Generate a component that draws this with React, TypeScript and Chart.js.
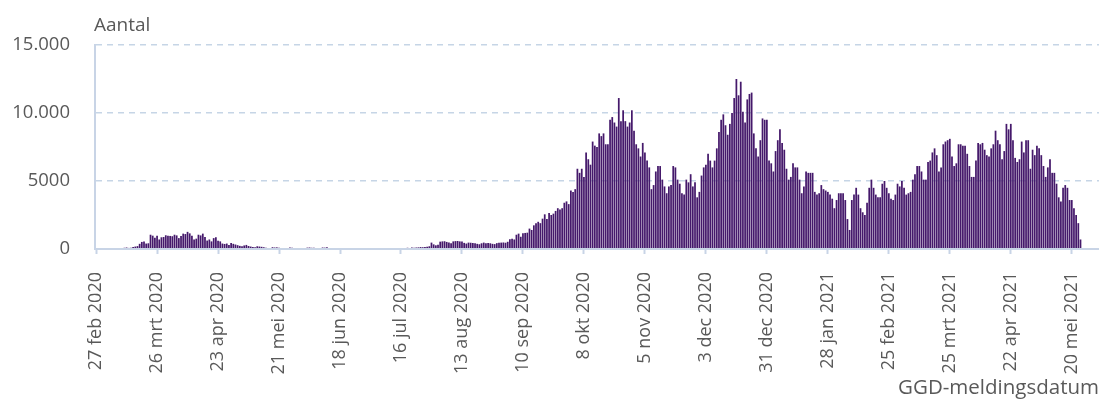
import { useEffect, useRef } from 'react';
import { Chart, registerables } from 'chart.js';

Chart.register(...registerables);

// ---- data ----
const firstDay = [2020, 1, 27]; // 27 feb 2020 (month 0-based)
const dayCount = 461;
const monthNames = ['jan', 'feb', 'mrt', 'apr', 'mei', 'jun', 'jul', 'aug', 'sep', 'okt', 'nov', 'dec'];
const tickEvery = 28;
const xTickLabels = [
  '27 feb 2020', '26 mrt 2020', '23 apr 2020', '21 mei 2020', '18 jun 2020', '16 jul 2020',
  '13 aug 2020', '10 sep 2020', '8 okt 2020', '5 nov 2020', '3 dec 2020', '31 dec 2020',
  '28 jan 2021', '25 feb 2021', '25 mrt 2021', '22 apr 2021', '20 mei 2021',
];
const yTickValues = [0, 5000, 10000, 15000];
const yTickLabels = ['0', '5000', '10.000', '15.000'];
const yAxisTitle = 'Aantal';
const xAxisTitle = 'GGD-meldingsdatum';

// daily counts, 27 feb 2020 onward
const wave1 = [
  0, 0, 0, 0, 1, 2, 3, 5, 8, 10, 15, 20, 25,
  90, 110, 80, 100, 150, 180, 210,
  380, 520, 560, 400, 420, 1050, 980,
  820, 980, 700, 860, 880, 1010, 980,
  960, 940, 1050, 1000, 800, 950, 1130,
  1100, 1260, 1150, 980, 700, 760, 1050,
  1000, 1130, 890, 620, 700, 560, 800,
  860, 600, 560, 400, 370, 400, 300,
  450, 380, 330, 280, 230, 200, 260,
  300, 220, 180, 150, 120, 200, 180,
  160, 130, 100, 30, 20, 130, 110,
  120, 100, 30, 20, 20, 30, 110,
  100, 30, 20, 20, 10, 20, 30,
  100, 110, 90,
];
const summer = [
  100, 20, 10, 20,
  110, 100, 120, 20, 20, 10, 20,
  15, 10, 10, 15, 10, 15, 20,
  15, 10, 10, 10, 15, 10, 15,
  20, 15, 10, 15, 10, 15, 20,
  15, 20, 10, 15, 20, 15, 20, 15,
  20, 30, 20, 90, 30, 110, 100,
  110, 120, 140, 130, 150, 160, 200,
  470, 340, 270, 320, 540, 560, 570,
  520, 470, 430, 560, 580, 590, 560,
  550, 450, 400, 470, 460, 440, 420,
  380, 350, 420, 470, 430, 440, 420,
  380, 360, 430, 460, 470, 480, 460,
  530, 720, 760, 700, 1050, 1130, 900,
  1150, 1180, 1200, 1500,
];
const wave2 = [
  1400, 1740, 1900, 2000, 1900, 2230, 2550, 2200, 2650,
  2500, 2600, 2800, 3000, 2900, 3000, 3400,
  3500, 3300, 4300, 4200, 4400, 5900, 5600,
  5900, 5300, 7100, 6600, 6200, 7900, 7600,
  7500, 8500, 8300, 8500, 7700, 7700, 9500,
  9700, 9300, 9000, 11100, 9400, 10200, 9400,
  9000, 9300, 10200, 8700, 7700, 7400, 6800,
  7800, 7100, 6500, 6000, 4400, 4700, 5700,
  6100, 6100, 5100, 4600, 4100, 4600, 4700,
  6100, 6000, 5100, 4800, 4100, 4000, 5100,
  4900, 5500, 4600, 4900, 3800, 4200, 5400,
  6000, 6200, 7000, 6500, 6000, 6500, 7400,
  8600, 9500, 9900, 9100, 8400, 9200, 10000,
  11100, 12500, 11300, 12300, 10100, 9300, 11000,
  11400, 11500, 8500, 7400, 6800, 8000, 9600,
  9500, 9500, 6500, 6300, 5700, 7200, 8000,
  8800, 7800, 7300, 5900, 5100, 5300, 6300,
  6000, 6000, 5100, 4100, 4600, 5700, 5600,
  5600, 5600,
];
const wave3 = [
  4200, 4000, 4100, 4700, 4400, 4300, 4200,
  4000, 3700, 3000, 3600, 4100, 4100, 4100,
  3600, 2200, 1400, 3600, 4000, 4500, 4000,
  3000, 2700, 2500, 3400, 4500, 5100, 4500,
  4000, 3800, 3800, 4800, 5000, 4500, 4100,
  3700, 3600, 4000, 4800, 4600, 5000, 4500,
  4000, 4100, 4200, 5100, 5500, 6100, 6100,
  5700, 5100, 5100, 6400, 6500, 7100, 7400,
  6900, 5700, 6000, 7700, 7900, 8000, 8100,
  6800, 6100, 6300, 7700, 7700, 7600, 7600,
  7000, 6100, 5300, 5300, 6500, 7800, 7700,
  7800, 7300, 6900, 6800, 7400, 7700, 8700,
  8000, 7700, 6600, 7200, 9200, 8800, 9200,
  8000, 6700, 6400, 6600, 7900, 7100, 8000,
  8000, 5900, 7300, 6900, 7600, 7400, 6900,
  6100, 5300, 6000, 6600, 5600, 5600, 4800,
  3800, 3500, 4500, 4700, 4500, 3600, 3600,
  3000, 2500, 1900, 700,
];

const dailyCases = [...wave1, ...summer, ...wave2, ...wave3];

function buildDayLabels(): string[] {
  const out: string[] = [];
  for (let i = 0; i < dayCount; i++) {
    const d = new Date(Date.UTC(firstDay[0], firstDay[1], firstDay[2] + i));
    out.push(`${d.getUTCDate()} ${monthNames[d.getUTCMonth()]} ${d.getUTCFullYear()}`);
  }
  return out;
}

const barColor = '#45196b';
const axisColor = '#c8d4e6';
const gridColor = '#c6d5e6';
const textColor = '#595959';
const fontFamily = '"Open Sans", "Noto Sans", sans-serif';

const axisTitlePlugin = {
  id: 'yAxisTitleTop',
  afterDraw(chart: any) {
    const { ctx, chartArea } = chart;
    ctx.save();
    ctx.font = `19px ${fontFamily}`;
    ctx.fillStyle = textColor;
    ctx.textAlign = 'left';
    ctx.textBaseline = 'alphabetic';
    ctx.fillText(yAxisTitle, chartArea.left - 1, chartArea.top - 14);
    ctx.restore();
  },
};

export default function App() {
  const canvasRef = useRef<HTMLCanvasElement | null>(null);

  useEffect(() => {
    if (!canvasRef.current) return;
    const labels = buildDayLabels();
    const chart = new Chart(canvasRef.current, {
      type: 'bar',
      data: {
        labels,
        datasets: [
          {
            label: 'Aantal',
            data: dailyCases,
            backgroundColor: barColor,
            borderWidth: 0,
            barPercentage: 0.8,
            categoryPercentage: 1.0,
          },
        ],
      },
      options: {
        animation: false,
        responsive: true,
        maintainAspectRatio: false,
        layout: { padding: { top: 45, left: 0, right: 0, bottom: 0 } },
        plugins: {
          legend: { display: false },
          title: { display: false },
          tooltip: { enabled: true },
        },
        scales: {
          x: {
            type: 'category',
            offset: true,
            grid: {
              display: true,
              drawOnChartArea: false,
              drawTicks: true,
              tickLength: 5,
              tickWidth: 2,
              tickColor: axisColor,
              offset: false,
            },
            border: { display: true, color: axisColor, width: 2, z: 1 },
            ticks: {
              autoSkip: false,
              maxRotation: 90,
              minRotation: 90,
              padding: 18,
              color: textColor,
              font: { family: fontFamily, size: 18 },
              callback: (value: any) => {
                const k = Number(value) / tickEvery;
                return xTickLabels[k] ?? '';
              },
            },
            afterBuildTicks: (scale: any) => {
              scale.ticks = scale.ticks.filter((t: any) => t.value % tickEvery === 0);
            },
            afterFit: (scale: any) => {
              scale.height = 152;
              scale.paddingLeft = 0;
              scale.paddingRight = 0;
            },
            title: {
              display: true,
              text: xAxisTitle,
              align: 'end',
              color: textColor,
              font: { family: fontFamily, size: 20.5 },
              padding: { top: 0, bottom: 1 },
            },
          },
          y: {
            min: 0,
            max: 15000,
            afterBuildTicks: (scale: any) => {
              scale.ticks = yTickValues.map((v) => ({ value: v }));
            },
            ticks: {
              padding: 25,
              color: textColor,
              font: { family: fontFamily, size: 18.5 },
              callback: (value: any) => {
                const i = yTickValues.indexOf(Number(value));
                return i >= 0 ? yTickLabels[i] : '';
              },
            },
            grid: {
              color: (ctx: any) => (ctx.tick && ctx.tick.value === 0 ? 'rgba(0,0,0,0)' : gridColor),
              lineWidth: 1.5,
              drawTicks: false,
            },
            border: { display: true, color: axisColor, width: 2, dash: [6, 5] },
            afterFit: (scale: any) => {
              scale.width = 95;
              scale.paddingTop = 0;
              scale.paddingBottom = 0;
            },
          },
        },
      },
      plugins: [axisTitlePlugin],
    });
    return () => chart.destroy();
  }, []);

  return (
    <div style={{ position: 'fixed', left: 0, top: 0, width: 1099, height: 401, background: '#fff' }}>
      <canvas ref={canvasRef} style={{ display: 'block' }} />
    </div>
  );
}
